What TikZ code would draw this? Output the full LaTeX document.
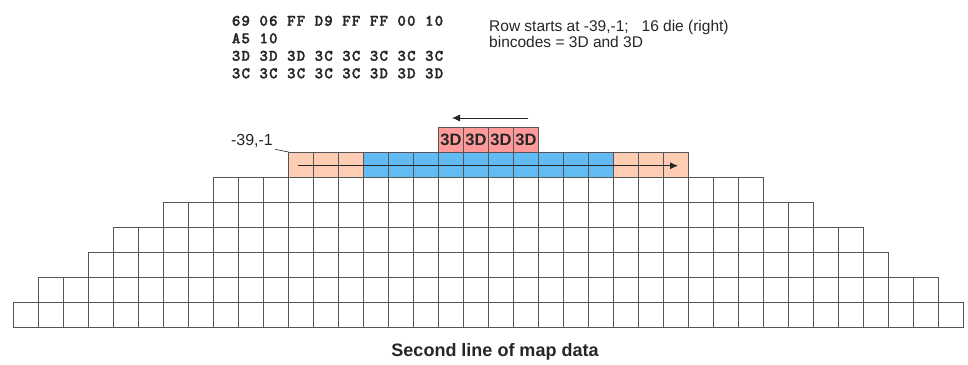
\documentclass[tikz,border=0pt]{standalone}
\usepackage{fontspec}
\setsansfont{Liberation Sans}
\newfontfamily\hexfont{lmmonolt10-bold.otf}[LetterSpace=7.5, FakeBold=2]
\usetikzlibrary{arrows.meta}

\definecolor{gridline}{HTML}{555555}
\definecolor{edgefill}{HTML}{FFCCB4}
\definecolor{passfill}{HTML}{62BBF2}
\definecolor{binfill}{HTML}{FF9A9A}
\definecolor{inkdark}{HTML}{262626}

\begin{document}
\begin{tikzpicture}[x=25pt, y=25pt,
    cell/.style={draw=gridline, line width=0.9pt},
    bincell/.style={cell, fill=binfill, minimum size=25pt, inner sep=0pt,
        font=\sffamily\bfseries\fontsize{16.5}{18}\selectfont, text=inkdark},
    scan/.style={draw=inkdark, line width=0.8pt, -{Latex[length=8pt, width=7pt]}},
    leader/.style={draw=inkdark, line width=0.6pt}]
    \useasboundingbox[fill=white] (-19.54,-1.48) rectangle (19.18,13.08);

    % rows of the wafer below the start row
    \foreach \r/\n in {0/19, 1/18, 2/16, 3/15, 4/13, 5/11} {
        \pgfmathtruncatemacro{\m}{2*\n-1}
        \foreach \k in {0,...,\m} {
            \draw[cell] (\k-\n,\r) rectangle ++(1,1);
        }
    }
    % second line of the map
    \foreach \x in {-8, -7, -6, 5, 6, 7} {
        \draw[cell, fill=edgefill] (\x,6) rectangle ++(1,1);
    }
    \foreach \x in {-5,...,4} {
        \draw[cell, fill=passfill] (\x,6) rectangle ++(1,1);
    }
    \foreach \x [count=\i] in {-2,...,1} {
        \node[bincell] (bin\i) at (\x+0.5,7.47) {3D};
    }

    \coordinate (scanA) at (-7.62,6.45);
    \coordinate (scanB) at (7.58,6.45);
    \draw[scan] (scanA) -- (scanB);
    \coordinate (binA) at (1.58,8.36);
    \coordinate (binB) at (-1.46,8.36);
    \draw[scan] (binA) -- (binB);

    \node[font=\sffamily\fontsize{16}{18}\selectfont, text=inkdark, inner sep=2pt] (start) at (-9.46,7.46) {-39,-1};
    \coordinate (corner) at (-8,7);
    \draw[leader] (start.south east) -- (corner);

    % last baselines
    \node[font=\hexfont\fontsize{16}{17.5}\selectfont, text=inkdark, align=left, anchor=base west, inner sep=0pt] (hex) at (-10.27,9.95)
        {69 06 FF D9 FF FF 00 10\\A5 10\\3D 3D 3D 3C 3C 3C 3C 3C\\3C 3C 3C 3C 3C 3D 3D 3D};
    \node[font=\sffamily\fontsize{15.5}{16.7}\selectfont, text=inkdark, align=left, anchor=base west, inner sep=0pt] (info) at (0.02,11.17)
        {Row starts at -39,-1;\ \ \ 16 die (right)\\bincodes = 3D and 3D};
    \node[font=\sffamily\bfseries\fontsize{18}{20}\selectfont, text=inkdark, anchor=base] (caption) at (0.26,-1.16) {Second line of map data};
\end{tikzpicture}
\end{document}
